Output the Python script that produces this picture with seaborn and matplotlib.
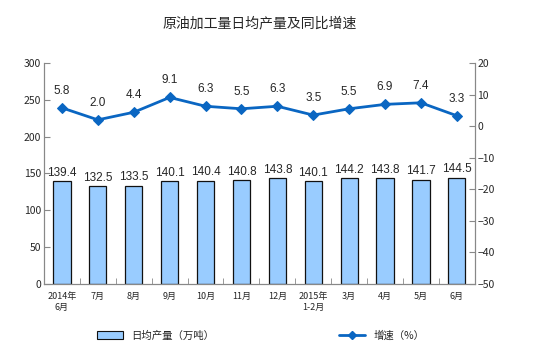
import numpy as np
import pandas as pd
import seaborn as sns
import matplotlib.pyplot as plt
from matplotlib.patches import Patch
from matplotlib.lines import Line2D

months = ["2014年\n6月", "7月", "8月", "9月", "10月", "11月", "12月",
          "2015年\n1-2月", "3月", "4月", "5月", "6月"]
output = [139.4, 132.5, 133.5, 140.1, 140.4, 140.8, 143.8, 140.1, 144.2, 143.8, 141.7, 144.5]
growth = [5.8, 2.0, 4.4, 9.1, 6.3, 5.5, 6.3, 3.5, 5.5, 6.9, 7.4, 3.3]

sns.set_style("white")
plt.rcParams['font.family'] = ['Noto Sans CJK SC', 'DejaVu Sans']

df = pd.DataFrame({"month": months, "output": output, "growth": growth})

fig = plt.figure(figsize=(5.54, 3.53), dpi=100)
ax = fig.add_axes([0.0794, 0.1955, 0.7776, 0.626])
bar_col = "#99CCFF"
line_col = "#0A66C2"
sns.barplot(data=df, x="month", y="output", color=bar_col, edgecolor="#111111",
            linewidth=0.9, width=0.48, saturation=1, ax=ax)
ax.set_ylim(0, 300)
ax.set_yticks(range(0, 301, 50))
ax.set_xlim(-0.5, len(months) - 0.5)
ax.set_xlabel("")
ax.set_ylabel("")

ax2 = ax.twinx()
x = np.arange(len(months))
sns.lineplot(x=x, y=growth, ax=ax2, color=line_col, marker="D", markersize=5,
             markeredgecolor=line_col, linewidth=2)
ax2.set_ylim(-50, 20)
ax2.set_yticks(range(-50, 21, 10))

for a in (ax, ax2):
    for s in ("left", "right", "bottom"):
        a.spines[s].set_color("#888888")
        a.spines[s].set_linewidth(0.8)
    a.spines["top"].set_visible(False)
    a.tick_params(labelsize=7.5, length=4, color="#888888", width=0.8, pad=2)

ax.tick_params(axis="y", left=True, direction="in")
ax2.tick_params(axis="y", right=True, direction="in")
ax.tick_params(axis="x", bottom=False, labelsize=6.5)
ax.set_xticks(x)
ax.set_xticklabels(months, fontsize=6.5)
ax.set_xticks(np.arange(-0.5, len(months), 1), minor=True)
ax.tick_params(axis="x", which="minor", bottom=True, length=4, direction="in", color="#888888")

for i, v in enumerate(output):
    ax.text(i, v + 3, f"{v:.1f}", ha="center", va="bottom", fontsize=8.5, family="Liberation Sans")
for i, v in enumerate(growth):
    ax2.text(i, v + 3.5, f"{v:.1f}", ha="center", va="bottom", fontsize=8.5, family="Liberation Sans")

fig.text(0.468, 0.935, "原油加工量日均产量及同比增速", ha="center", va="center", fontsize=10)

handles = [Patch(facecolor=bar_col, edgecolor="#111111", linewidth=0.8),
           Line2D([], [], color=line_col, marker="D", markersize=4, linewidth=2)]
fig.legend(handles, ["日均产量（万吨）", "增速（%）"], loc="center", bbox_to_anchor=(0.47, 0.05),
           ncol=2, frameon=False, fontsize=7.5, columnspacing=12, handlelength=2.5)

fig.savefig("out.png", dpi=100)
